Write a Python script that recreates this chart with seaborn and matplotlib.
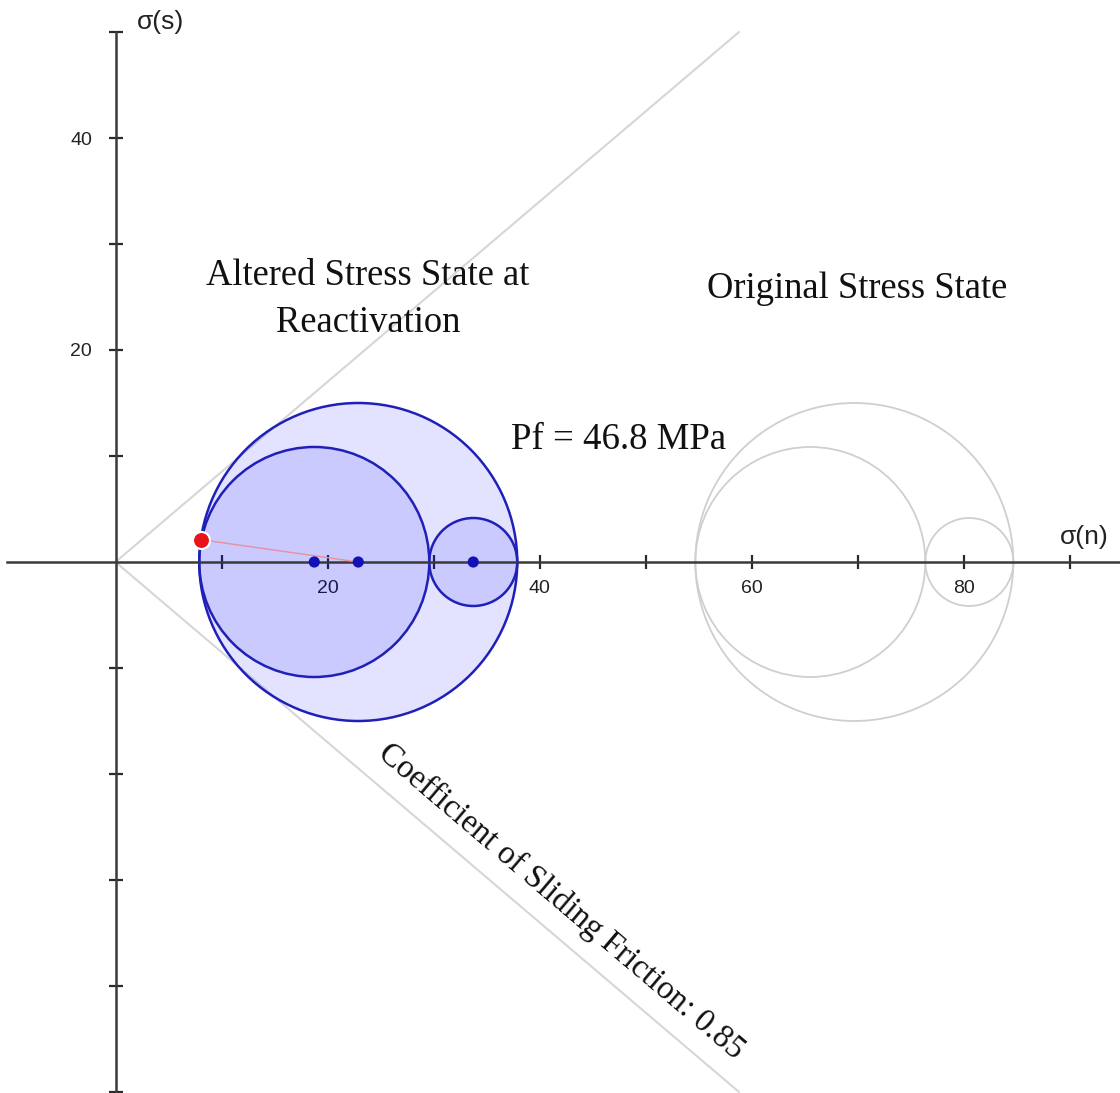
import numpy as np
import matplotlib
matplotlib.use("Agg")
import matplotlib.pyplot as plt
import seaborn as sns
import pandas as pd
from matplotlib.patches import Circle

# ---------------- data ----------------
pore_pressure = 46.8
original_stresses = [84.7, 76.4, 54.7]          # sigma1, sigma2, sigma3 (MPa)
friction_coeff = 0.85
slip_point = [8.1, 2.1]                          # (sigma_n, sigma_s) on the altered outer circle
x_ticks = [10, 20, 30, 40, 50, 60, 70, 80, 90]
x_tick_labels = ["", "20", "", "40", "", "60", "", "80", ""]
y_ticks = [-50, -40, -30, -20, -10, 10, 20, 30, 40, 50]
y_tick_labels = ["", "", "", "", "", "", "20", "", "40", ""]
labels = {
    "altered": "Altered Stress State at\nReactivation",
    "original": "Original Stress State",
    "pf": "Pf = 46.8 MPa",
    "friction": "Coefficient of Sliding Friction: 0.85",
    "xlabel": "σ(n)",
    "ylabel": "σ(s)",
}

altered_stresses = [s - pore_pressure for s in original_stresses]


def circle_pairs(st):
    s1, s2, s3 = st
    return [(s1, s3), (s2, s3), (s1, s2)]


# ---------------- figure ----------------
sns.set_theme(style="white")
plt.rcParams["font.family"] = ["Liberation Sans", "DejaVu Sans"]

W, H, DPI = 1120, 1093, 100
fig = plt.figure(figsize=(W / DPI, H / DPI), dpi=DPI)
ax = fig.add_axes([0, 0, 1, 1])

scale = 10.6
ox, oy = 115.5, 562.0
ax.set_xlim(-ox / scale, (W - ox) / scale)
ax.set_ylim(-(H - oy) / scale, oy / scale)
ax.set_aspect("equal", adjustable="box")

# friction envelope lines
y_end = 50.0
x_end = y_end / friction_coeff
env = pd.DataFrame({"x": [0, x_end, 0, x_end], "y": [0, y_end, 0, -y_end],
                    "g": ["up", "up", "down", "down"]})
sns.lineplot(data=env, x="x", y="y", units="g", estimator=None, color="#d6d6d6",
             lw=1.5, ax=ax, zorder=1, sort=False)

# original circles
for a, b in circle_pairs(original_stresses):
    c = Circle(((a + b) / 2, 0), abs(a - b) / 2, facecolor="none",
               edgecolor="#cfcfcf", lw=1.3, zorder=1.2)
    ax.add_patch(c)

# altered circles
for a, b in circle_pairs(altered_stresses):
    c = Circle(((a + b) / 2, 0), abs(a - b) / 2, facecolor=(0.0, 0.0, 1.0, 0.11),
               edgecolor="#2020b8", lw=1.8, zorder=1.5)
    ax.add_patch(c)

# red line from slip point to outer circle centre
s1, s2, s3 = altered_stresses
outer_c = (s1 + s3) / 2
ax.plot([slip_point[0], outer_c], [slip_point[1], 0], color="#e8909e", lw=1.0, zorder=3)

# centre points
centers = pd.DataFrame({"x": [(a + b) / 2 for a, b in circle_pairs(altered_stresses)],
                        "y": [0, 0, 0]})
sns.scatterplot(data=centers, x="x", y="y", s=65, color="#1212b8", edgecolor="none",
                ax=ax, zorder=4)
sp = pd.DataFrame({"x": [slip_point[0]], "y": [slip_point[1]]})
sns.scatterplot(data=sp, x="x", y="y", s=150, color="#e8141a", edgecolor="white",
                linewidth=1.5, ax=ax, zorder=5)

# axes through origin
for side in ["top", "right"]:
    ax.spines[side].set_visible(False)
ax.spines["left"].set_position(("data", 0))
ax.spines["bottom"].set_position(("data", 0))
ax.spines["left"].set_bounds(-50, 50)
ax.spines["bottom"].set_bounds(-10.2, (W - ox) / scale)
for side in ["left", "bottom"]:
    ax.spines[side].set_color("#3a3a3a")
    ax.spines[side].set_linewidth(1.8)
    ax.spines[side].set_zorder(2.5)

ax.set_xticks(x_ticks)
ax.set_xticklabels(x_tick_labels)
ax.set_yticks(y_ticks)
ax.set_yticklabels(y_tick_labels)
ax.tick_params(axis="both", which="major", direction="inout", length=9.5, width=1.6,
               color="#2a2a2a", labelsize=14, labelcolor="#222222",
               bottom=True, left=True, top=False, right=False)
ax.tick_params(axis="x", pad=8)
ax.tick_params(axis="y", pad=12)
ax.set_xlabel("")
ax.set_ylabel("")

# axis labels
ax.text(2.0, 50.9, labels["ylabel"], fontsize=19, ha="left", va="center", color="#222")
ax.text(91.4, 2.4, labels["xlabel"], fontsize=19, ha="center", va="center", color="#222")

serif = ["Liberation Serif", "DejaVu Serif"]
ax.text(23.8, 24.8, labels["altered"], family=serif, fontsize=26.3, ha="center",
        va="center", linespacing=1.45, color="#111")
ax.text(69.95, 25.75, labels["original"], family=serif, fontsize=26.3, ha="center",
        va="center", color="#111")
ax.text(47.5, 11.5, labels["pf"], family=serif, fontsize=26.5, ha="center",
        va="center", color="#111")
ang = -np.degrees(np.arctan(friction_coeff))
ax.text(42.0, -32.0, labels["friction"], family=serif, fontsize=23.5, ha="center",
        va="center", rotation=ang, rotation_mode="anchor", color="#111")

ax.set_facecolor("white")
fig.savefig("out.png", dpi=DPI, facecolor="white")
